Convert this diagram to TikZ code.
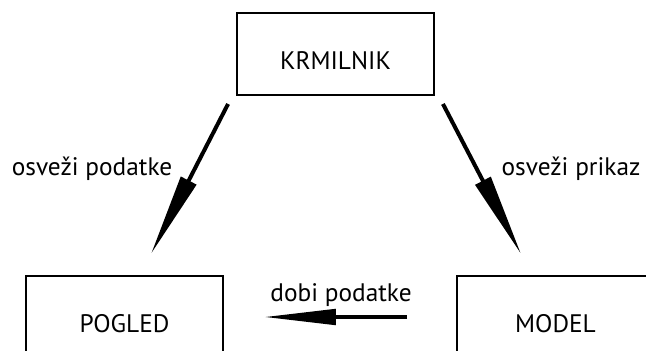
\documentclass[tikz,border=0pt]{standalone}
\usepackage{fontspec}
\setmainfont{PT Sans}
\usetikzlibrary{arrows.meta}

\tikzset{
  block/.style={draw, line width=1.4pt, minimum width=147.75pt, minimum height=61.5pt,
    inner sep=0pt, text height=23pt, text depth=0pt},
  flow/.style={-{Triangle[length=62pt,width=12.5pt]}, line width=3pt},
}

\begin{document}
\begin{tikzpicture}[x=0.75pt, y=-0.75pt, font=\fontsize{19}{22}\selectfont]
  \useasboundingbox (0,0) rectangle (646,350);
  \clip (0,0) rectangle (646,350);

  % the three parts
  \node[block] (krmilnik) at (335.5,54) {KRMILNIK};
  \node[block] (pogled) at (124.5,317) {POGLED};
  \node[block] (model) at (555.5,317) {MODEL};

  % messages between them
  \draw[flow] ([shift={(-8,8)}]krmilnik.south west) -- ([shift={(-73,-21)}]pogled.north east);
  \draw[flow] ([shift={(8,8)}]krmilnik.south east) -- ([shift={(65,-21)}]model.north west);
  \draw[flow, -{Triangle[length=54pt,width=11.5pt]}] ([shift={(-49,0)}]model.west) -- ([shift={(40,0)}]pogled.east);

  \node (osvezi) at (92,169) {osveži podatke};
  \node (prikaz) at (571,169) {osveži prikaz};
  \node (dobi) at (341,295.5) {dobi podatke};
\end{tikzpicture}
\end{document}
